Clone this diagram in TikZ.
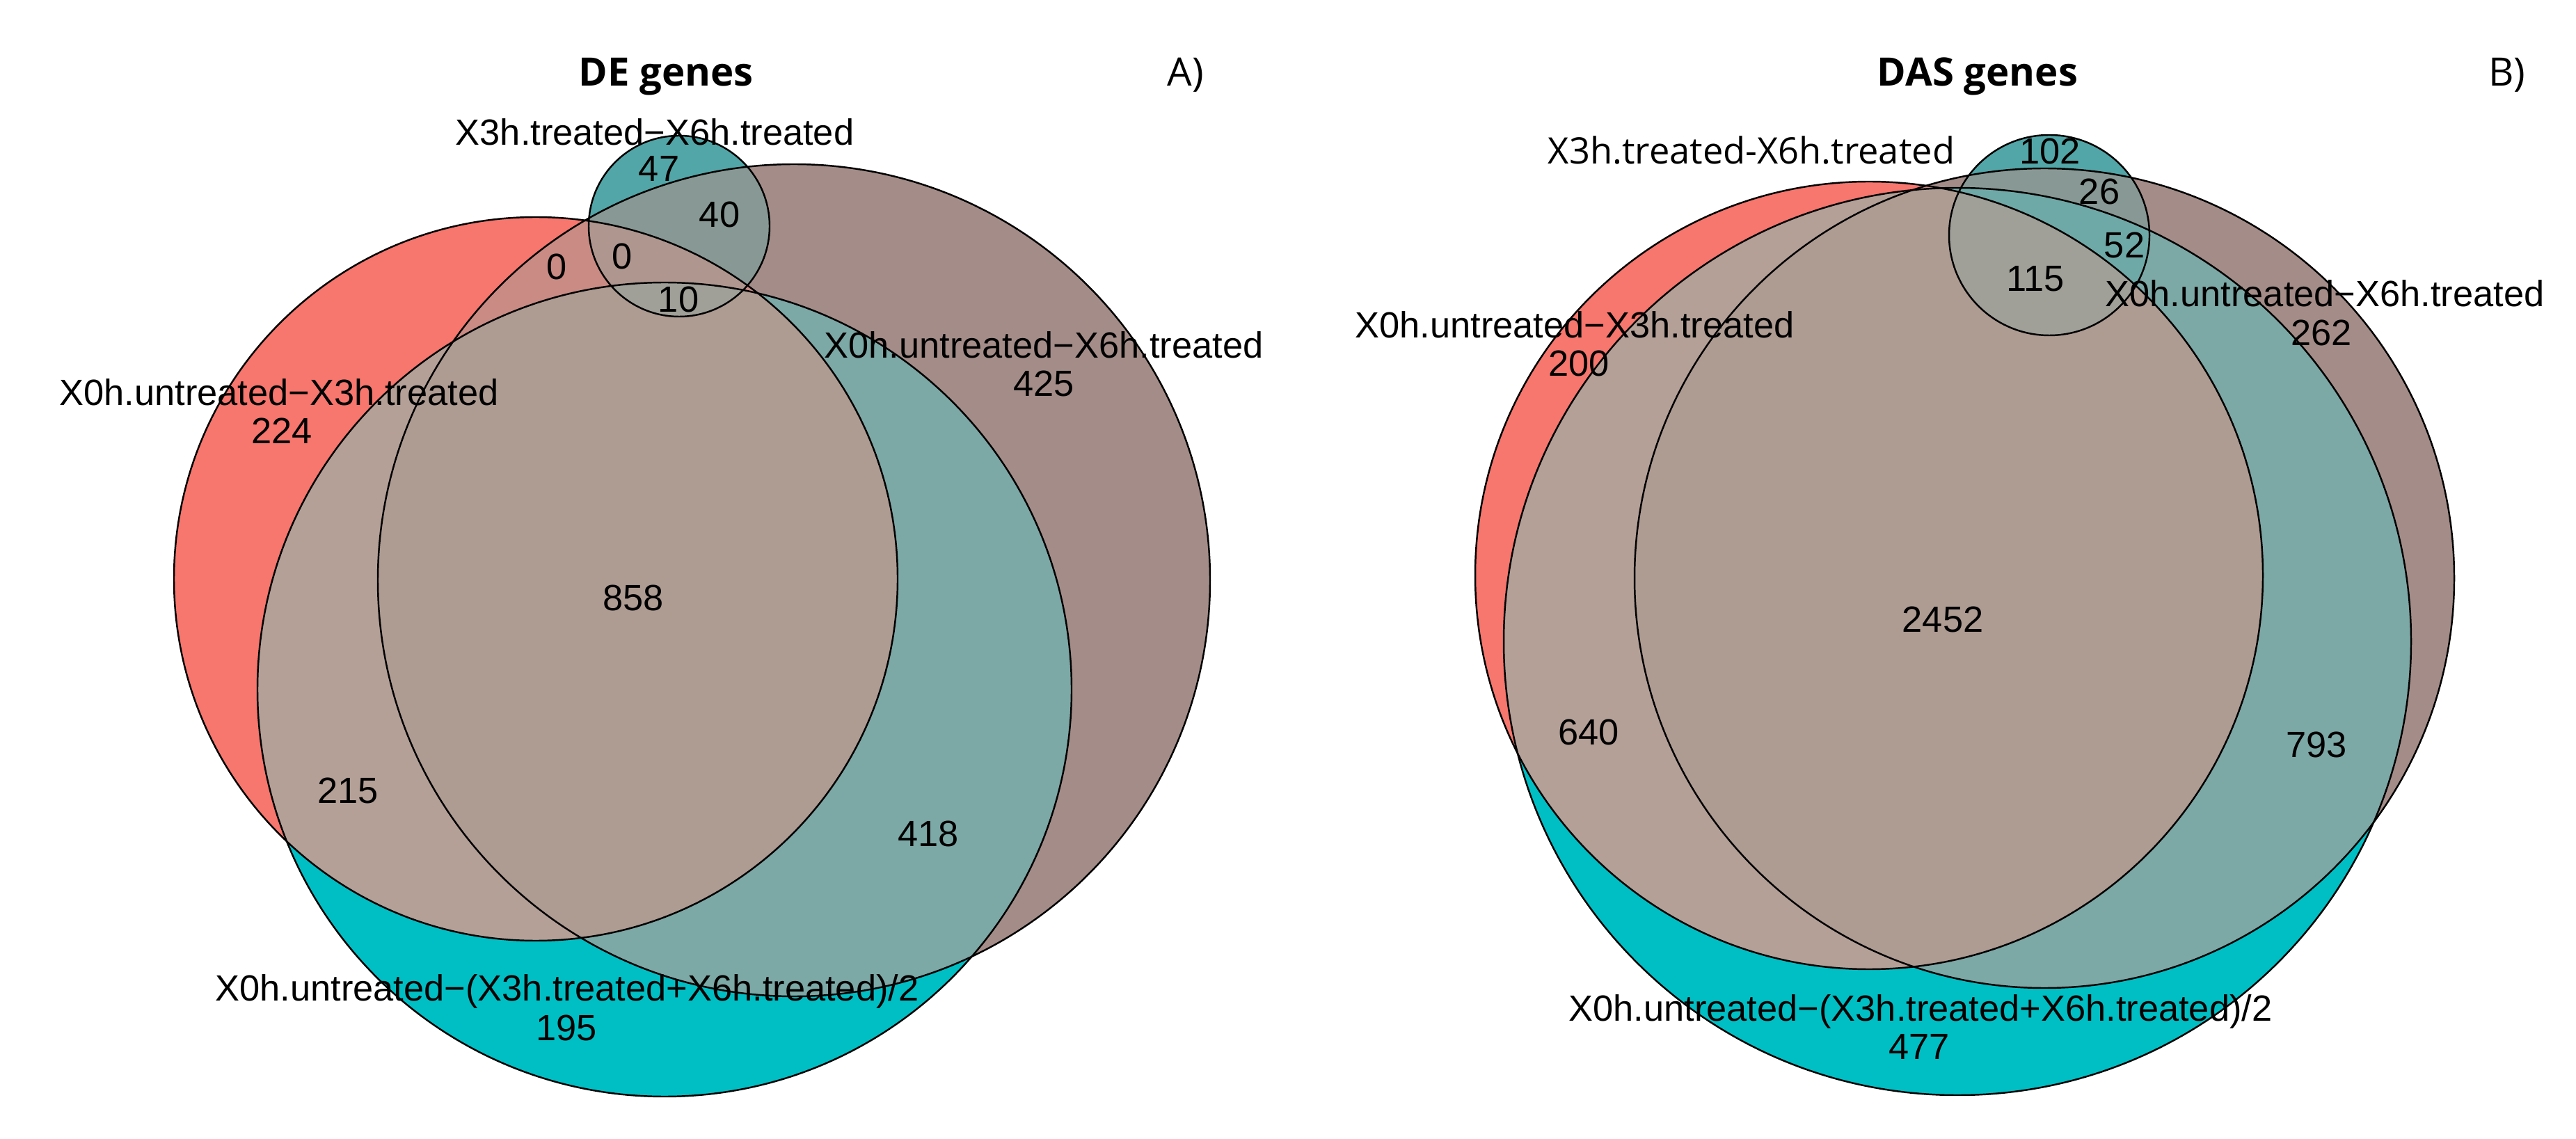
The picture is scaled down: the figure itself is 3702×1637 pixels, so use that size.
\documentclass[tikz,border=0pt]{standalone}
\usepackage{fontspec}
\setmainfont{Liberation Sans}
\newfontfamily\osans{Open Sans}
\definecolor{cR}{HTML}{F7766D}
\definecolor{cB}{HTML}{A48C88}
\definecolor{cC}{HTML}{00BFC4}
\definecolor{cS}{HTML}{52A6A7}
\definecolor{cRB}{HTML}{C98B83}
\definecolor{cRC}{HTML}{B4A097}
\definecolor{cRS}{HTML}{A99089}
\definecolor{cBC}{HTML}{7CA8A6}
\definecolor{cBS}{HTML}{889894}
\definecolor{cCS}{HTML}{3FAFB0}
\definecolor{cRBC}{HTML}{AE9B92}
\definecolor{cRBS}{HTML}{AF968E}
\definecolor{cRCS}{HTML}{A6A097}
\definecolor{cBCS}{HTML}{6FA9A7}
\definecolor{cRBCS}{HTML}{A09F98}
\newcommand{\paintvenn}{%
  \fill[cR] \RP; \fill[cB] \BP; \fill[cC] \CP; \fill[cS] \SP;
  \begin{scope}\clip \RP; \fill[cRB] \BP; \end{scope}
  \begin{scope}\clip \RP; \fill[cRC] \CP; \end{scope}
  \begin{scope}\clip \RP; \fill[cRS] \SP; \end{scope}
  \begin{scope}\clip \BP; \fill[cBC] \CP; \end{scope}
  \begin{scope}\clip \BP; \fill[cBS] \SP; \end{scope}
  \begin{scope}\clip \CP; \fill[cCS] \SP; \end{scope}
  \begin{scope}\clip \RP; \clip \BP; \fill[cRBC] \CP; \end{scope}
  \begin{scope}\clip \RP; \clip \BP; \fill[cRBS] \SP; \end{scope}
  \begin{scope}\clip \RP; \clip \CP; \fill[cRCS] \SP; \end{scope}
  \begin{scope}\clip \BP; \clip \CP; \fill[cBCS] \SP; \end{scope}
  \begin{scope}\clip \RP; \clip \BP; \clip \CP; \fill[cRBCS] \SP; \end{scope}
  \draw[outline] \RP; \draw[outline] \BP; \draw[outline] \CP; \draw[outline] \SP;
}
\begin{document}
\begin{tikzpicture}[x=0.01cm, y=-0.01cm,
  outline/.style={draw=black, line width=0.7pt},
  lab/.style={font=\fontsize{14.9}{17}\selectfont, inner sep=0pt, text height=10.7pt, text depth=0pt, anchor=center},
  olab/.style={font=\osans\fontsize{14.9}{17}\selectfont, inner sep=0pt, text height=10.7pt, text depth=0pt, anchor=center},
  ttl/.style={font=\osans\bfseries\fontsize{16}{19}\selectfont, inner sep=0pt, text height=11.4pt, text depth=0pt, anchor=center},
  tag/.style={font=\osans\fontsize{16}{19}\selectfont, inner sep=0pt, text height=11.4pt, text depth=0pt, anchor=center}]
\useasboundingbox[fill=white] (0,0) rectangle (3702,1637);
% ---------- Panel A ----------
\def\RP{(770,832) circle[radius=520]}
\def\BP{(1141,834) circle[radius=598]}
\def\CP{(955,991) circle[radius=585]}
\def\SP{(976,325) circle[radius=130]}
\paintvenn
\node[ttl] (titleA) at (957,103) {DE genes};
\node[tag] (tagA) at (1704,103) {A)};
\node[lab] (sA) at (941,190) {X3h.treated−X6h.treated};
\node[lab] (rA) at (401,564) {X0h.untreated−X3h.treated};
\node[lab] (a224) at (405,619) {224};
\node[lab] (bA) at (1500,496) {X0h.untreated−X6h.treated};
\node[lab] (a425) at (1500,551) {425};
\node[lab] (cA) at (815,1420) {X0h.untreated−(X3h.treated+X6h.treated)/2};
\node[lab] (a195) at (814,1477) {195};
\node[lab] (a858) at (910,859) {858};
\node[lab] (a215) at (500,1136) {215};
\node[lab] (a418) at (1334,1198) {418};
\node[lab] (a47) at (947,242) {47};
\node[lab] (a40) at (1034,308) {40};
\node[lab] (a0a) at (800,383) {0};
\node[lab] (a0b) at (894,368) {0};
\node[lab] (a10) at (975,430) {10};
% ---------- Panel B ----------
\def\RP{(2686,827) circle[radius=566]}
\def\BP{(2938,831) circle[radius=589]}
\def\CP{(2813,922) circle[radius=652]}
\def\SP{(2945,338) circle[radius=144]}
\paintvenn
\node[ttl] (titleB) at (2842,103) {DAS genes};
\node[tag] (tagB) at (3603,103) {B)};
\node[olab] (sB) at (2517,217) {X3h.treated-X6h.treated};
\node[lab] (b102) at (2946,217) {102};
\node[lab] (b26) at (3017,275) {26};
\node[lab] (b52) at (3053,352) {52};
\node[lab] (b115) at (2925,400) {115};
\node[lab] (bB) at (3341,422) {X0h.untreated−X6h.treated};
\node[lab] (b262) at (3336,478) {262};
\node[lab] (rB) at (2263,467) {X0h.untreated−X3h.treated};
\node[lab] (b200) at (2269,522) {200};
\node[lab] (b2452) at (2792,890) {2452};
\node[lab] (b640) at (2283,1052) {640};
\node[lab] (b793) at (3329,1070) {793};
\node[lab] (cB) at (2760,1449) {X0h.untreated−(X3h.treated+X6h.treated)/2};
\node[lab] (b477) at (2758,1504) {477};
\end{tikzpicture}
\end{document}
